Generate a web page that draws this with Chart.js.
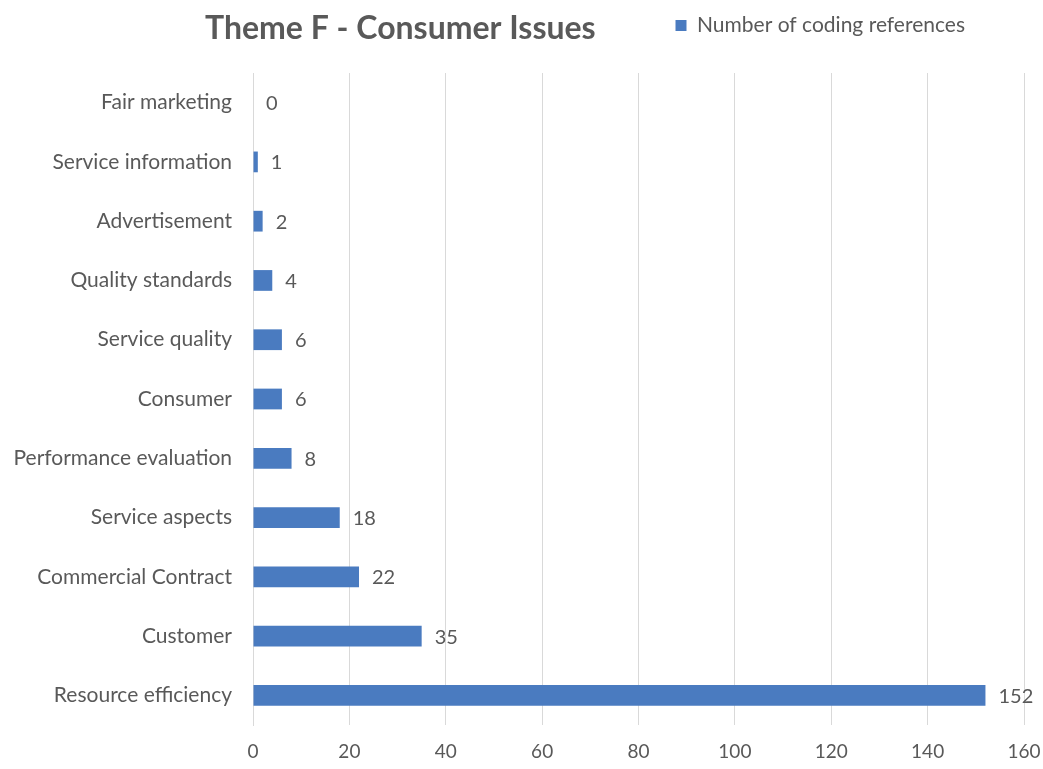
<!DOCTYPE html>
<html>
<head>
<meta charset="utf-8">
<title>Theme F - Consumer Issues</title>
<script src="https://cdn.jsdelivr.net/npm/chart.js@4"></script>
<style>
  html, body { margin: 0; padding: 0; background: #fff; }
  #wrap { width: 1043px; height: 769px; position: relative; }
</style>
</head>
<body>
<div id="wrap"><canvas id="themeChart"></canvas></div>
<script>
const categories = [
  'Fair marketing', 'Service information', 'Advertisement', 'Quality standards',
  'Service quality', 'Consumer', 'Performance evaluation', 'Service aspects',
  'Commercial Contract', 'Customer', 'Resource efficiency'
];
const references = [0, 1, 2, 4, 6, 6, 8, 18, 22, 35, 152];
const xTicks = [0, 20, 40, 60, 80, 100, 120, 140, 160];

const textGray = '#595959';
const barBlue = '#4a7bc0';
const FONT = 'Lato, "Open Sans", sans-serif';

// title on the left of the top row, legend moved to sit beside it
const headerPlugin = {
  id: 'header',
  beforeDraw(chart) {
    const lg = chart.legend;
    lg.top = 0;
    lg.right = 980;
    const ctx = chart.ctx;
    ctx.save();
    ctx.fillStyle = textGray;
    ctx.font = 'bold 32px ' + FONT;
    ctx.textAlign = 'left';
    ctx.textBaseline = 'middle';
    ctx.fillText('Theme F - Consumer Issues', 205, 29);
    ctx.restore();
  }
};

// value printed after the end of each bar
const valueLabels = {
  id: 'valueLabels',
  afterDatasetsDraw(chart) {
    const ctx = chart.ctx;
    const meta = chart.getDatasetMeta(0);
    ctx.save();
    ctx.fillStyle = textGray;
    ctx.font = '20px ' + FONT;
    ctx.textAlign = 'left';
    ctx.textBaseline = 'middle';
    meta.data.forEach((bar, i) => {
      ctx.fillText(String(references[i]), bar.x + 13, bar.y + 1);
    });
    ctx.restore();
  }
};

new Chart(document.getElementById('themeChart'), {
  type: 'bar',
  data: {
    labels: categories,
    datasets: [{
      label: 'Number of coding references',
      data: references,
      backgroundColor: barBlue,
      barPercentage: 0.35,
      categoryPercentage: 1
    }]
  },
  options: {
    indexAxis: 'y',
    responsive: true,
    maintainAspectRatio: false,
    animation: false,
    layout: { padding: { top: 27, right: 19, bottom: 0, left: 0 } },
    plugins: {
      title: { display: false },
      tooltip: { enabled: false },
      legend: {
        position: 'top',
        align: 'end',
        labels: {
          boxWidth: 11,
          boxHeight: 11,
          padding: 15,
          color: textGray,
          font: { family: FONT, size: 21 }
        }
      }
    },
    scales: {
      x: {
        min: 0,
        max: 160,
        afterBuildTicks(scale) {
          scale.ticks = xTicks.map(v => ({ value: v }));
        },
        afterFit(scale) {
          scale.height = 44;
          scale.paddingLeft = 0;
          scale.paddingRight = 0;
        },
        grid: { color: '#d9d9d9', drawTicks: false },
        border: { display: false },
        ticks: {
          padding: 15,
          color: textGray,
          font: { family: FONT, size: 19 }
        }
      },
      y: {
        afterFit(scale) { scale.width = 253; },
        grid: { display: false, drawTicks: false },
        border: { display: true, color: '#d9d9d9' },
        ticks: {
          padding: 21,
          color: textGray,
          font: { family: FONT, size: 21 }
        }
      }
    }
  },
  plugins: [headerPlugin, valueLabels]
});
</script>
</body>
</html>
